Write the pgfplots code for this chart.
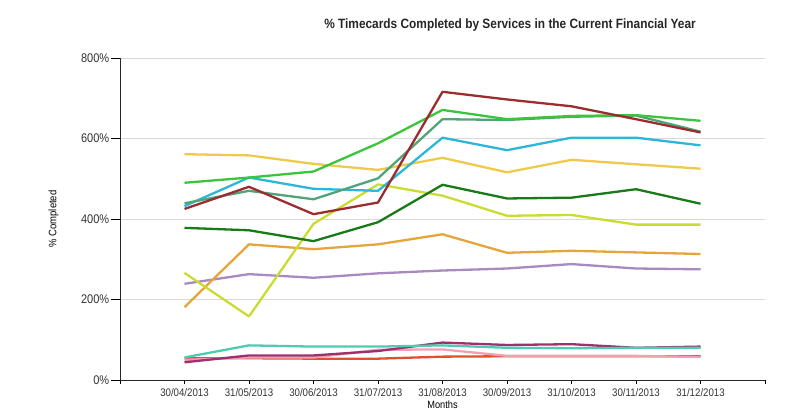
\documentclass[border=0pt]{standalone}
\usepackage{fontspec}
\setmainfont[FakeStretch=0.88]{Liberation Sans}
\usepackage{pgfplots}
\pgfplotsset{compat=1.18}
\definecolor{cDarkRed}{RGB}{155,45,48}
\definecolor{cBrightGreen}{RGB}{60,196,60}
\definecolor{cSeaGreen}{RGB}{80,165,120}
\definecolor{cCyan}{RGB}{45,182,219}
\definecolor{cGold}{RGB}{239,201,76}
\definecolor{cDarkGreen}{RGB}{24,122,24}
\definecolor{cYellowGreen}{RGB}{202,219,50}
\definecolor{cOrange}{RGB}{229,165,58}
\definecolor{cLavender}{RGB}{168,139,190}
\definecolor{cTurq}{RGB}{78,203,176}
\definecolor{cMagenta}{RGB}{158,48,112}
\definecolor{cPink}{RGB}{240,160,176}
\definecolor{cRedOrange}{RGB}{224,80,44}
\begin{document}
\begin{tikzpicture}[x=1pt,y=1pt]
\useasboundingbox (0,0) rectangle (800,412);
\begin{axis}[
  at={(120pt,32pt)}, anchor=south west,
  width=645pt, height=322pt, scale only axis,
  xmin=-1, xmax=9, ymin=0, ymax=800,
  axis x line=bottom, axis y line=left,
  axis line style={-, black!85, line width=0.9pt},
  xtick={-1,0,1,2,3,4,5,6,7,8,9},
  xticklabels={,30/04/2013,31/05/2013,30/06/2013,31/07/2013,31/08/2013,30/09/2013,31/10/2013,30/11/2013,31/12/2013,},
  ytick={0,200,400,600,800},
  yticklabel={\pgfmathprintnumber{\tick}\%},
  /pgf/number format/assume math mode=true,
  ymajorgrids, grid style={black!15, line width=0.7pt},
  tick align=outside,
  xtick style={black, line width=0.9pt, /pgfplots/major tick length=4pt},
  ytick style={black, line width=0.9pt, /pgfplots/major tick length=9pt},
  x tick label style={font=\fontsize{11}{12}\selectfont, text=black!80, yshift=-1pt},
  y tick label style={font=\fontsize{12.5}{14}\selectfont, text=black!80, xshift=-3pt},
  xlabel={Months},
  xlabel style={font=\fontsize{10.5}{12}\selectfont, at={(axis description cs:0.5,0)}, anchor=center, yshift=-25pt},
  ylabel={\% Completed},
  ylabel style={font=\fontsize{10.8}{12}\selectfont, at={(axis description cs:-0.103,0.5)}, anchor=center},
  every axis plot/.append style={line width=2.3pt, mark=none, line join=round},
]
\addplot[cRedOrange] coordinates {(0,54)(1,54)(2,53)(3,53)(4,58)(5,59)(6,59)(7,59)(8,59)};
\addplot[cPink] coordinates {(0,50)(1,56)(2,56)(3,75)(4,76)(5,60)(6,60)(7,60)(8,57)};
\addplot[cMagenta] coordinates {(0,44)(1,61)(2,61)(3,72)(4,93)(5,87)(6,89)(7,80)(8,83)};
\addplot[cTurq] coordinates {(0,56)(1,86)(2,83)(3,83)(4,86)(5,80)(6,79)(7,80)(8,80)};
\addplot[cLavender] coordinates {(0,239)(1,263)(2,254)(3,265)(4,272)(5,277)(6,288)(7,277)(8,275)};
\addplot[cOrange] coordinates {(0,181)(1,337)(2,325)(3,337)(4,362)(5,316)(6,321)(7,317)(8,313)};
\addplot[cYellowGreen] coordinates {(0,266)(1,158)(2,388)(3,486)(4,458)(5,408)(6,410)(7,386)(8,386)};
\addplot[cDarkGreen] coordinates {(0,378)(1,372)(2,345)(3,392)(4,485)(5,451)(6,453)(7,474)(8,438)};
\addplot[cGold] coordinates {(0,561)(1,558)(2,537)(3,522)(4,552)(5,516)(6,547)(7,536)(8,525)};
\addplot[cCyan] coordinates {(0,432)(1,503)(2,475)(3,470)(4,602)(5,571)(6,602)(7,602)(8,583)};
\addplot[cSeaGreen] coordinates {(0,439)(1,470)(2,449)(3,501)(4,648)(5,646)(6,654)(7,657)(8,617)};
\addplot[cBrightGreen] coordinates {(0,490)(1,503)(2,518)(3,588)(4,671)(5,648)(6,656)(7,658)(8,644)};
\addplot[cDarkRed] coordinates {(0,425)(1,480)(2,412)(3,441)(4,716)(5,697)(6,680)(7,648)(8,615)};
\end{axis}
\node[font=\bfseries\fontsize{13.5}{15}\selectfont, text=black!85] at (510,387) {\% Timecards Completed by Services in the Current Financial Year};
\end{tikzpicture}
\end{document}
